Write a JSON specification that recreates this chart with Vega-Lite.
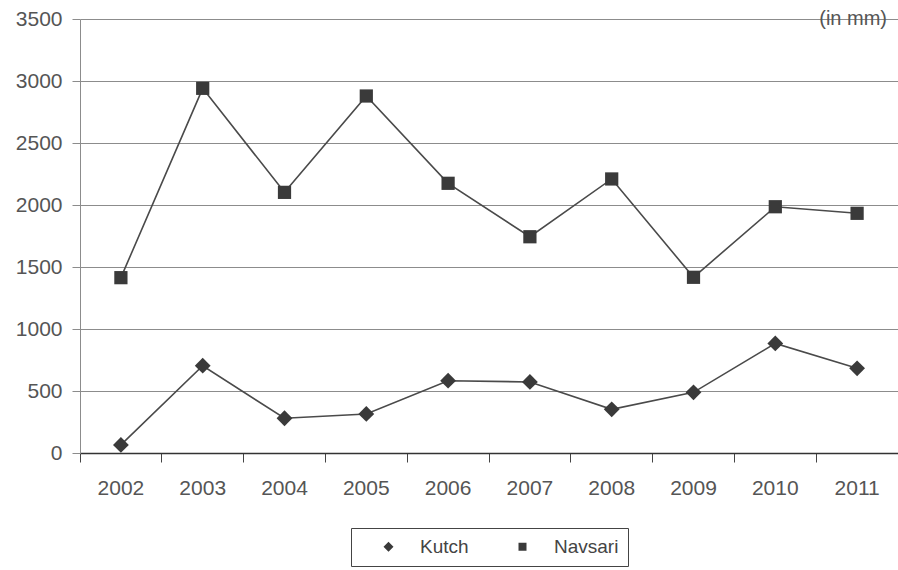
{
  "$schema": "https://vega.github.io/schema/vega-lite/v6.json",
  "width": 818,
  "height": 434,
  "autosize": {"type": "none"},
  "padding": {"left": 80, "top": 19, "right": 0, "bottom": 117},
  "background": "white",
  "config": {
    "font": "Liberation Sans",
    "view": {"stroke": null}
  },
  "title": {
    "text": "(in mm)",
    "orient": "top",
    "anchor": "end",
    "frame": "group",
    "offset": -21,
    "dx": -11,
    "fontSize": 20,
    "fontWeight": "normal",
    "color": "#555"
  },
  "data": {
    "values": [
      {"year": "2002", "station": "Kutch", "value": 65},
      {"year": "2003", "station": "Kutch", "value": 704},
      {"year": "2004", "station": "Kutch", "value": 280},
      {"year": "2005", "station": "Kutch", "value": 315},
      {"year": "2006", "station": "Kutch", "value": 583},
      {"year": "2007", "station": "Kutch", "value": 573},
      {"year": "2008", "station": "Kutch", "value": 352},
      {"year": "2009", "station": "Kutch", "value": 489},
      {"year": "2010", "station": "Kutch", "value": 884},
      {"year": "2011", "station": "Kutch", "value": 683},
      {"year": "2002", "station": "Navsari", "value": 1414},
      {"year": "2003", "station": "Navsari", "value": 2941},
      {"year": "2004", "station": "Navsari", "value": 2102},
      {"year": "2005", "station": "Navsari", "value": 2879},
      {"year": "2006", "station": "Navsari", "value": 2175},
      {"year": "2007", "station": "Navsari", "value": 1744},
      {"year": "2008", "station": "Navsari", "value": 2210},
      {"year": "2009", "station": "Navsari", "value": 1417},
      {"year": "2010", "station": "Navsari", "value": 1986},
      {"year": "2011", "station": "Navsari", "value": 1933}
    ]
  },
  "resolve": {"axis": {"x": "independent"}},
  "layer": [
    {
      "mark": {"type": "line", "color": "#4a4a4a", "strokeWidth": 1.6},
      "encoding": {
        "x": {
          "field": "year",
          "type": "ordinal",
          "scale": {"type": "band", "paddingInner": 0, "paddingOuter": 0},
          "axis": {
            "orient": "bottom",
            "title": null,
            "labels": false,
            "ticks": true,
            "bandPosition": 0,
            "tickSize": 9,
            "tickColor": "#444",
            "domain": true,
            "domainColor": "#333",
            "domainWidth": 1.5,
            "grid": false
          }
        },
        "y": {
          "field": "value",
          "type": "quantitative",
          "scale": {"domain": [0, 3500], "nice": false},
          "axis": {
            "title": null,
            "values": [0, 500, 1000, 1500, 2000, 2500, 3000, 3500],
            "format": "d",
            "grid": true,
            "gridColor": "#8c8c8c",
            "gridWidth": 1.2,
            "tickColor": "#8c8c8c",
            "tickSize": 8,
            "labelPadding": 10,
            "labelFontSize": 21,
            "labelColor": "#555",
            "domainColor": "#8c8c8c"
          }
        },
        "detail": {"field": "station", "type": "nominal"}
      }
    },
    {
      "transform": [{"filter": "datum.station === 'Kutch'"}],
      "mark": {"type": "point", "filled": true, "color": "#3a3a3a", "opacity": 1, "shape": "diamond", "size": 250},
      "encoding": {
        "x": {
          "field": "year",
          "type": "ordinal",
          "axis": {
            "orient": "bottom",
            "title": null,
            "ticks": false,
            "domain": false,
            "grid": false,
            "labelAngle": 0,
            "labelPadding": 24,
            "labelFontSize": 21,
            "labelColor": "#555"
          }
        },
        "y": {"field": "value", "type": "quantitative"}
      }
    },
    {
      "transform": [{"filter": "datum.station === 'Navsari'"}],
      "mark": {"type": "point", "filled": true, "color": "#3a3a3a", "opacity": 1, "shape": "square", "size": 175},
      "encoding": {
        "x": {"field": "year", "type": "ordinal", "axis": null},
        "y": {"field": "value", "type": "quantitative"}
      }
    },
    {
      "transform": [{"filter": "datum.value < 0"}],
      "mark": {"type": "point", "filled": false, "fill": "#3a3a3a", "stroke": "#3a3a3a", "strokeWidth": 1.5, "opacity": 1},
      "encoding": {
        "shape": {
          "field": "station",
          "type": "nominal",
          "scale": {
            "domain": ["Kutch", "Navsari"],
            "range": ["M-4.5,0H4.5M-1,0L0,-1L1,0L0,1Z", "M-4.5,0H4.5M-0.8,-0.8H0.8V0.8H-0.8Z"]
          },
          "legend": {
            "title": null,
            "orient": "none",
            "legendX": 271,
            "legendY": 509,
            "direction": "horizontal",
            "strokeColor": "#444",
            "fillColor": "white",
            "padding": 9,
            "labelFontSize": 19,
            "labelColor": "#444",
            "labelOffset": 22,
            "symbolOffset": 19,
            "columnPadding": 25,
            "symbolSize": 100,
            "symbolFillColor": "#3a3a3a",
            "symbolStrokeColor": "#3a3a3a",
            "symbolStrokeWidth": 1.5,
            "symbolOpacity": 1,
            "encode": {
              "symbols": {
                "update": {
                  "stroke": {"value": "#3a3a3a"},
                  "strokeWidth": {"value": 1.5},
                  "fill": {"value": "#3a3a3a"}
                }
              }
            }
          }
        }
      }
    }
  ]
}
